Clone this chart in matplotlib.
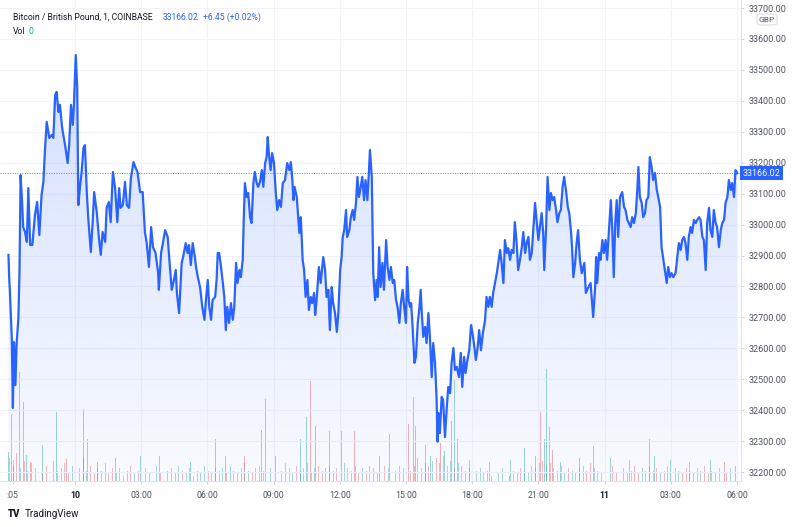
import numpy as np
import matplotlib
matplotlib.use("Agg")
import matplotlib.pyplot as plt
from matplotlib.patches import Polygon, FancyBboxPatch

plt.rcParams['font.family'] = ['Roboto', 'DejaVu Sans']

# minutes from 00:00 on the 10th, and BTC/GBP price (1 minute chart)
time_min = [
    -181, -179, -177, -172, -169, -166, -162, -159, -154, -151, -148, -144, -141, -136, -131, -127,
    -122, -116, -109, -103, -97, -91, -86, -82, -77, -70, -63, -59, -54, -50, -45, -41, -35, -27,
    -20, -16, -11, -6, -3, 2, 6, 9, 14, 18, 23, 27, 32, 36, 43, 48, 52, 59, 65, 70, 75, 82, 86, 92,
    97, 103, 109, 115, 120, 124, 130, 136, 141, 147, 152, 159, 165, 170, 177, 184, 190, 195, 201,
    207, 212, 219, 226, 228, 234, 239, 245, 252, 258, 263, 269, 274, 277, 283, 290, 294, 301, 306,
    310, 315, 320, 326, 329, 334, 340, 346, 352, 356, 361, 365, 370, 374, 381, 385, 388, 392, 397,
    402, 406, 410, 414, 419, 424, 429, 433, 438, 442, 447, 451, 456, 459, 462, 467, 471, 476, 480,
    485, 489, 494, 498, 503, 508, 512, 517, 521, 524, 527, 532, 536, 541, 546, 550, 555, 560, 565,
    571, 577, 583, 587, 591,
    594, 597, 603, 607, 610, 614, 619, 623, 627, 632, 636, 641, 645, 650, 653, 657, 663, 668, 675,
    680, 684, 689, 693, 698, 702, 707, 712, 716, 721, 725, 728, 732, 737, 740, 746, 750, 755, 759,
    764, 768, 772, 777, 781, 786, 790, 795, 799, 802, 807, 811, 816, 820, 823, 827, 831, 836, 840,
    846, 850, 855, 859, 864, 868, 873, 877, 882, 886, 891, 895, 900, 903, 907, 911, 914, 918, 923,
    927, 932, 936, 940, 943, 947, 952, 956, 961, 965, 970, 974, 979, 983,
    986, 988, 992, 997, 1001, 1006, 1011, 1015, 1020, 1024, 1029, 1033, 1038, 1044, 1049, 1053,
    1058, 1062, 1067, 1072, 1077, 1081, 1086, 1090, 1095, 1099, 1104, 1109, 1115, 1119, 1124, 1128,
    1133, 1137, 1142, 1147, 1151, 1156, 1160, 1165, 1169, 1174, 1178, 1183, 1187, 1192, 1196, 1201,
    1205, 1210, 1215, 1219, 1224, 1228, 1233, 1237, 1242, 1246, 1251, 1255, 1260, 1264, 1269, 1273,
    1276, 1281, 1285, 1290, 1294, 1299, 1303, 1308, 1312, 1317, 1321, 1326, 1330, 1335, 1340, 1344,
    1349, 1352, 1355, 1360, 1364, 1368, 1373, 1378,
    1385, 1389, 1396, 1402, 1406, 1409, 1414, 1417, 1420, 1425, 1429, 1434, 1438, 1443, 1447, 1453,
    1457, 1461, 1465, 1469, 1473, 1477, 1482, 1488, 1493, 1497, 1502, 1506, 1511, 1515, 1520, 1525,
    1529, 1532, 1536, 1541, 1545, 1550, 1554, 1559, 1563, 1568, 1572, 1577, 1582, 1586, 1591, 1595,
    1600, 1604, 1609, 1613, 1618, 1622, 1627, 1633, 1639, 1642, 1647, 1651, 1656, 1660, 1665, 1669,
    1674, 1678, 1683, 1688, 1692, 1697, 1701, 1706, 1710, 1715, 1719, 1724, 1728, 1733, 1737, 1742,
    1746, 1751, 1756, 1760, 1765, 1769, 1774, 1778, 1783, 1787, 1792, 1796, 1801,
]
price = [
    32902, 32827, 32782, 32633, 32407, 32620, 32481, 32611, 32698, 32847, 33160, 33073, 32992, 32976,
    32944, 33118, 32934, 32934, 33031, 33073, 32966, 33096, 33138, 33235, 33332, 33280, 33290, 33280,
    33419, 33429, 33364, 33387, 33312, 33257, 33199, 33257, 33387, 33322, 33387, 33548, 33442, 33063,
    33128, 33170, 33248, 33257, 33105, 33021, 32911, 33008, 33105, 33041, 32957, 32902, 32976, 32944,
    33054, 33073, 33008, 33170, 33118, 33008, 33118, 33054, 33063, 33138, 33063, 33054, 33151, 33202,
    33183, 33170, 33105, 33105, 32976, 32940, 32863,
    32992, 32927, 32908, 32843, 32789, 32908, 32940, 32982, 32960, 32863, 32789, 32821, 32853, 32779,
    32714, 32876, 32895, 32940, 32908, 32934, 32869, 32940, 32895, 32863, 32830, 32798, 32734, 32692,
    32756, 32821, 32734, 32692, 32756, 32766, 32821, 32908, 32908, 32863, 32811, 32766, 32659, 32734,
    32682, 32746, 32692, 32734, 32876, 32811, 32853, 32830, 32886, 33024, 33134, 33089, 33102, 33024,
    33005, 33134, 33170, 33134, 33122, 33138, 33176, 33122, 33199, 33218, 33283, 33231, 33176, 33231,
    33199, 33102, 33047, 33079, 33057, 33134, 33144, 33199, 33176, 33202, 33144,
    33079, 33122, 33089, 33024, 32973, 33024, 32886, 32853, 32766, 32821, 32724, 32766, 32746, 32779,
    32708, 32756, 32863, 32811, 32895, 32853, 32766, 32789, 32659, 32798, 32746, 32714, 32653, 32714,
    32853, 32895, 32960, 32982, 33047, 32960, 32982, 33024, 33047, 33015, 33070, 33154, 33089, 33122,
    33154, 33079, 33144, 33079, 33167, 33241, 33154, 32843, 32756, 32821, 32766, 32927, 32798, 32876,
    32789, 32950, 32863, 32821, 32863, 32811, 32821, 32756, 32734, 32682, 32746, 32789, 32734, 32682,
    32863, 32756, 32734, 32746, 32669, 32553, 32572, 32682, 32724, 32789, 32714, 32637, 32669, 32617,
    32714, 32637, 32507, 32617, 32553, 32443,
    32298, 32391, 32326, 32443, 32433, 32313, 32410, 32475, 32455, 32553, 32601, 32530, 32540, 32507,
    32585, 32475, 32572, 32520, 32562, 32594, 32675, 32649, 32604, 32562, 32604, 32659, 32594, 32649,
    32691, 32766, 32734, 32766, 32734, 32779, 32811, 32843, 32876, 32918, 32876, 32811, 32950, 32908,
    32924, 32886, 32918, 32908, 33008, 32940, 32853, 32886, 32927, 32976, 32908, 32940, 32960, 32886,
    32908, 32982, 33070, 33015, 32950, 32992, 33037, 32973, 32853, 32992, 33154, 33047, 33102, 33079,
    33089, 33047, 33008, 33037, 33047, 33122, 33154, 33112, 33057, 33037, 32973, 32918, 32830, 32876,
    32940, 32982, 32886, 32843,
    32876, 32779, 32798, 32811, 32746, 32701, 32789, 32895, 32811, 32908, 32886, 32950, 32908, 32950,
    32886, 33005, 33079, 32982, 32830, 33005, 33079, 32960, 33089, 33105, 33057, 33047, 33015, 33005,
    32992, 33024, 33005, 33037, 33112, 33186, 33089, 33070, 33024, 33037, 33079, 33089, 33218, 33186,
    33144, 33167, 33112, 33089, 33057, 32927, 32886, 32853, 32811, 32863, 32830, 32843, 32830, 32843,
    32908, 32940, 32918, 32950, 32960, 32940, 32886, 32960, 32992, 32973, 33015, 33005, 33015, 33024,
    33015, 32960, 32950, 32853, 33005, 33054, 32982, 32960, 33047, 33005, 32992, 32927, 32982, 33005,
    33015, 33070, 33089, 33144, 33112, 33134, 33089, 33176, 33166.02,
]

# larger volume bars (minutes, volume, G = up / R = down)
vol_t = [-181, -172, -166, -150, -141, -133, -122, -88, -68, -50, -24, 1, 24, 33, 60, 109, 177,
         231, 313, 381, 408, 462, 508, 517, 544, 612, 630, 641, 653, 693, 725, 761, 813, 829, 856,
         906, 920, 927, 952, 966, 994, 1006, 1024, 1031, 1041, 1074, 1128, 1183, 1221, 1251, 1266,
         1276, 1282, 1289, 1299, 1319, 1373, 1411, 1455, 1509, 1563, 1577, 1618, 1672, 1727, 1767,
         1796]
vol_v = [1.16, 2.64, 0.84, 4.32, 3.12, 1.04, 0.76, 1.44, 0.76, 2.72, 0.92, 4.56, 2.84, 1.64, 0.76,
         0.92, 1.0, 1.0, 0.76, 1.64, 1.0, 1.0, 2.0, 3.24, 1.0, 1.64, 2.52, 3.96, 2.16, 1.96, 1.96,
         1.96, 3.04, 1.0, 1.84, 2.24, 3.32, 2.16, 1.44, 1.0, 1.52, 1.2, 2.36, 4.04, 1.64, 0.84, 0.76,
         0.84, 1.32, 1.0, 2.72, 1.64, 4.44, 2.12, 1.24, 0.76, 0.92, 1.4, 0.92, 0.84, 1.64, 1.0, 0.84,
         0.76, 0.84, 0.76, 0.6]
vol_dir = "GRRGR GRGRG RGGRG RGRGR GRGRG GGRGR GRRGG RRGRG RGGGG RRGGR RGGRR GRGGR RGGRG RR".replace(" ", "")

# the many small volume bars along the bottom, one every 10 minutes from -178
small_v = [
    0.9, 0.6, 1.1, 0.5, 0.8, 0.4, 0.7, 0.5, 0.9, 0.3, 0.6, 0.5, 0.8, 0.4, 0.5, 0.7, 0.3, 0.6, 0.4, 0.5,
    0.9, 0.4, 0.6, 0.3, 0.5, 0.4, 0.7, 0.3, 0.5,
    0.3, 0.5, 0.2, 0.4, 0.6, 0.3, 0.4, 0.2, 0.5, 0.3, 0.4, 0.6, 0.3, 0.2, 0.4, 0.5, 0.3, 0.6, 0.4, 0.3,
    0.5, 0.2, 0.4, 0.3, 0.6, 0.4, 0.3, 0.5, 0.4,
    0.5, 0.3, 0.6, 0.4, 0.3, 0.5, 0.7, 0.4, 0.3, 0.5, 0.6, 0.4, 0.8, 0.5, 0.3, 0.6, 0.4, 0.7, 0.5, 0.3,
    0.6, 0.4, 0.5, 0.7, 0.3, 0.5, 0.6, 0.4, 0.5,
    0.6, 0.4, 0.5, 0.3, 0.7, 0.5, 0.4, 0.6, 0.3, 0.5, 0.4, 0.6, 0.5, 0.3, 0.4, 0.6, 0.5, 0.7, 0.4, 0.6,
    0.5, 0.8, 0.4, 0.6, 0.9, 0.5, 0.7, 0.6, 0.8,
    0.9, 0.7, 1.0, 0.6, 0.8, 0.5, 0.7, 0.6, 0.4, 0.5, 0.3, 0.4, 0.5, 0.3, 0.4, 0.2, 0.4, 0.3, 0.5, 0.3,
    0.2, 0.4, 0.3, 0.5, 0.4, 0.3, 0.6, 0.5, 0.7,
    0.8, 0.6, 0.7, 0.5, 0.4, 0.6, 0.3, 0.5, 0.4, 0.3, 0.5, 0.6, 0.4, 0.7, 0.5, 0.4, 0.3, 0.5, 0.4, 0.6,
    0.3, 0.4, 0.5, 0.3, 0.4, 0.6, 0.3, 0.5, 0.4,
    0.6, 0.4, 0.5, 0.3, 0.4, 0.6, 0.3, 0.5, 0.4, 0.3, 0.5, 0.4, 0.3, 0.5, 0.4, 0.6, 0.3, 0.4, 0.3, 0.5,
    0.4, 0.3, 0.5, 0.6,
]
small_dir = ("GRRGRGGRGR RGRGGRRGRG GGRRGRGRRG RGGRGRRGGR GRGRRGGRGR RRGGRGRGGR GRGRGGRRGR "
             "RGRRGGRGRG GGRGRRGRGR RGRGGRGRRG GRRGRGGRGR RGGRRGRGRG GRGRGRRGGR RGRGGRGRGR "
             "GGRRGRGRGR RGRGRGGRRG GRGGRRGRGR RRGRGGRGRG GRGRRGGRGR RGGRGR").replace(" ", "")
small_t = list(range(-178, -178 + 10 * len(small_v), 10))

tick_pos = [-170, 0, 180, 360, 540, 720, 900, 1080, 1260, 1440, 1620, 1800]
tick_lab = [":05", "10", "03:00", "06:00", "09:00", "12:00", "15:00", "18:00", "21:00", "11", "03:00", "06:00"]
price_ticks = list(range(32200, 33800, 100))
last_price = 33166.02

W, H = 800, 527
fig = plt.figure(figsize=(W / 100, H / 100), dpi=100)
fig.patch.set_facecolor('white')

# volume pane underneath
axv = fig.add_axes([0, 46 / H, 741 / W, 481 / H])
axv.set_xlim(-204, 1811)
axv.set_ylim(0, 19)
axv.axis('off')
up, down = '#26a69a', '#ef5350'
axv.bar(small_t, small_v, width=2.6, color=[up if d == 'G' else down for d in small_dir],
        alpha=0.4, linewidth=0)
axv.bar(vol_t, vol_v, width=2.6, color=[up if d == 'G' else down for d in vol_dir],
        alpha=0.45, linewidth=0)

ax = fig.add_axes([0, 46 / H, 741 / W, 481 / H])
ax.patch.set_visible(False)
ylo, yhi = 32171, 33726
t = np.array(time_min, dtype=float)
p = np.array(price, dtype=float)

# gradient area under the line
verts = np.column_stack([np.r_[t[0], t, t[-1]], np.r_[ylo, p, ylo]])
clip = Polygon(verts, closed=True, transform=ax.transData, facecolor='none', edgecolor='none')
ax.add_patch(clip)
grad = np.zeros((256, 1, 4))
grad[..., 0], grad[..., 1], grad[..., 2] = 41 / 255, 98 / 255, 255 / 255
grad[..., 3] = np.linspace(0.2, 0.03, 256)[:, None]
im = ax.imshow(grad, extent=[t[0], t[-1], ylo, p.max()], aspect='auto', origin='upper',
               interpolation='bilinear', zorder=1)
im.set_clip_path(clip)

ax.plot(t, p, color='#2962ff', lw=1.6, zorder=3, solid_joinstyle='round')
ax.axhline(last_price, color='#2962ff', lw=0.7, ls=(0, (1, 1.5)), alpha=0.8, zorder=2)

ax.set_xlim(-204, 1811)
ax.set_ylim(ylo, yhi)

# grid and axes
for y in price_ticks:
    ax.axhline(y, color='#f0f3fa', lw=0.8, zorder=0)
for x in tick_pos[1:]:
    ax.axvline(x, color='#f0f3fa', lw=0.8, zorder=0)
for s in ['top', 'left']:
    ax.spines[s].set_visible(False)
for s in ['right', 'bottom']:
    ax.spines[s].set_color('#e0e3eb')
    ax.spines[s].set_linewidth(0.8)

ax.yaxis.tick_right()
ax.set_yticks(price_ticks)
ax.set_yticklabels([f"{v:.2f}" for v in price_ticks])
ax.tick_params(axis='y', length=2.5, width=0.6, color='#c9ccd4', pad=3, labelsize=6.5,
               labelcolor='#50535e')
ax.set_xticks(tick_pos)
ax.set_xticklabels(tick_lab)
ax.tick_params(axis='x', length=2.5, width=0.6, color='#c9ccd4', pad=5, labelsize=6.3,
               labelcolor='#50535e')
for lab in ax.get_xticklabels():
    if lab.get_text() in ('10', '11'):
        lab.set_fontweight('bold')
        lab.set_color('#131722')

# last price label
ax.text(1.002, (last_price - ylo) / (yhi - ylo), f"{last_price:.2f}", transform=ax.transAxes,
        ha='left', va='center', fontsize=6.5, color='white',
        bbox=dict(boxstyle='square,pad=0.25', fc='#2962ff', ec='none'), clip_on=False)

# currency box
fig.patches.append(FancyBboxPatch((757 / W, 1 - 25 / H), 20 / W, 11 / H,
                                  boxstyle='round,pad=0,rounding_size=0.004',
                                  transform=fig.transFigure, fc='white', ec='#d1d4dc', lw=0.6))
fig.text(767 / W, 1 - 19.5 / H, "GBP", ha='center', va='center', fontsize=6, color='#50535e')

# header
fig.text(13 / W, 1 - 17 / H, "Bitcoin / British Pound, 1, COINBASE", fontsize=6.2, color='#131722', va='center')
fig.text(163 / W, 1 - 17 / H, "33166.02", fontsize=6.2, color='#2962ff', va='center')
fig.text(203 / W, 1 - 17 / H, "+6.45 (+0.02%)", fontsize=6.2, color='#2962ff', va='center')
fig.text(13 / W, 1 - 31 / H, "Vol", fontsize=6.2, color='#131722', va='center')
fig.text(29 / W, 1 - 31 / H, "0", fontsize=6.2, color='#26a69a', va='center')

# logo
fig.text(8 / W, 1 - 514 / H, "TV", fontsize=7, fontweight='black', color='#131722', va='center')
fig.text(25 / W, 1 - 514 / H, "TradingView", fontsize=7, color='#131722', va='center')

fig.savefig('out.png', dpi=100, facecolor='white')
